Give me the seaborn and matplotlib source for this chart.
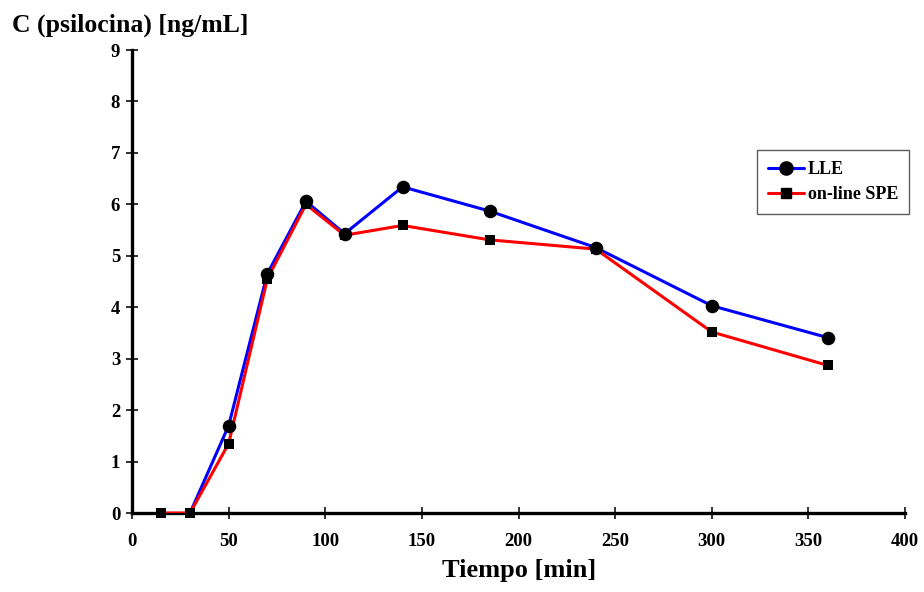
#!/usr/bin/env python3
"""Psilocin plasma concentration over time: LLE vs on-line SPE."""

import matplotlib

matplotlib.use("Agg")

import matplotlib.pyplot as plt
from matplotlib.lines import Line2D
import seaborn as sns


LLE_TIME = [30, 50, 70, 90, 110, 140, 185, 240, 300, 360]
LLE_CONC = [0.0, 1.70, 4.65, 6.06, 5.43, 6.34, 5.87, 5.16, 4.03, 3.41]

SPE_TIME = [15, 30, 50, 70, 90, 110, 140, 185, 240, 300, 360]
SPE_CONC = [0.0, 0.0, 1.35, 4.55, 6.00, 5.40, 5.59, 5.31, 5.13, 3.52, 2.87]

X_TICKS = [0, 50, 100, 150, 200, 250, 300, 350, 400]
Y_TICKS = [0, 1, 2, 3, 4, 5, 6, 7, 8, 9]


def main() -> None:
    sns.set_theme(style="white", rc={
        "xtick.bottom": True,
        "ytick.left": True,
        "text.color": "black",
        "axes.labelcolor": "black",
        "xtick.color": "black",
        "ytick.color": "black",
    })
    plt.rcParams["font.family"] = ["Liberation Serif", "DejaVu Serif"]
    plt.rcParams["font.weight"] = "bold"

    fig = plt.figure(figsize=(9.24, 5.92), dpi=100)
    ax = fig.add_axes([0.1429, 0.1334, 0.8365, 0.7821])

    sns.lineplot(x=LLE_TIME, y=LLE_CONC, color="#0000ff", linewidth=2.2,
                 sort=False, estimator=None, ax=ax, zorder=3)
    sns.lineplot(x=SPE_TIME, y=SPE_CONC, color="#ff0000", linewidth=2.2,
                 sort=False, estimator=None, ax=ax, zorder=3)

    # circles only where the compound was quantified
    lle_pts = [(t, c) for t, c in zip(LLE_TIME, LLE_CONC) if c > 0]
    sns.scatterplot(x=[p[0] for p in lle_pts], y=[p[1] for p in lle_pts],
                    marker="o", s=95, color="black", edgecolor="black",
                    linewidth=0, ax=ax, zorder=5, clip_on=False)
    sns.scatterplot(x=SPE_TIME, y=SPE_CONC, marker="s", s=45, color="black",
                    edgecolor="black", linewidth=0, ax=ax, zorder=6,
                    clip_on=False)

    ax.set_xlim(0, 400)
    ax.set_ylim(0, 9)
    ax.set_xticks(X_TICKS)
    ax.set_yticks(Y_TICKS)
    ax.set_xticklabels([str(v) for v in X_TICKS], fontsize=13.5, fontweight="bold")
    ax.set_yticklabels([str(v) for v in Y_TICKS], fontsize=13.5, fontweight="bold")

    for side in ("top", "right"):
        ax.spines[side].set_visible(False)
    for side in ("left", "bottom"):
        ax.spines[side].set_linewidth(2.4)
        ax.spines[side].set_color("black")
    ax.tick_params(axis="both", direction="inout", length=9, width=1.3,
                   color="#222222", labelcolor="black", bottom=True, left=True)
    ax.tick_params(axis="x", pad=10)
    ax.tick_params(axis="y", pad=4)
    ax.grid(False)

    ax.set_xlabel("")
    ax.set_ylabel("")
    fig.text(0.5613, 1 - 571 / 592, "Tiempo [min]", ha="center", va="center",
             fontsize=19, fontweight="bold", color="black")
    fig.text(12 / 924, 1 - 25 / 592, "C (psilocina) [ng/mL]", ha="left",
             va="center", fontsize=18.5, fontweight="bold", color="black")

    handles = [
        Line2D([0], [0], color="#0000ff", linewidth=2.2, marker="o",
               markersize=9.5, markerfacecolor="black", markeredgecolor="black",
               label="LLE"),
        Line2D([0], [0], color="#ff0000", linewidth=2.2, marker="s",
               markersize=6.5, markerfacecolor="black", markeredgecolor="black",
               label="on-line SPE"),
    ]
    leg = ax.legend(handles=handles, loc="upper left",
                    bbox_to_anchor=(757 / 924, 1 - 150 / 592),
                    bbox_transform=fig.transFigure, borderaxespad=0,
                    frameon=True, fancybox=False, shadow=False,
                    prop={"size": 13, "weight": "bold"}, handlelength=2.0,
                    handletextpad=0.2, labelspacing=0.45, borderpad=0.6)
    leg.get_frame().set_edgecolor("#333333")
    leg.get_frame().set_linewidth(1.0)
    for text in leg.get_texts():
        text.set_color("black")

    fig.savefig("out.png", dpi=100, facecolor="white")
    plt.close(fig)


if __name__ == "__main__":
    main()
